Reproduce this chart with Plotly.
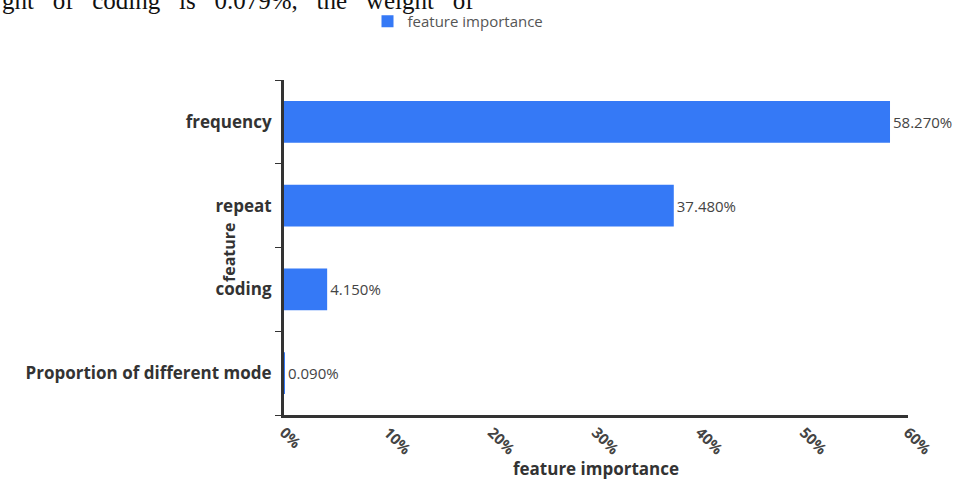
import plotly.graph_objects as go

features = ["Proportion of different mode", "coding", "repeat", "frequency"]
importance = [0.09, 4.15, 37.48, 58.27]
x_ticks = [0, 10, 20, 30, 40, 50, 60]
series_name = "feature importance"

L, R, T, B = 284, 50, 80, 65
PW, PH = 958 - L - R, 480 - T - B

fig = go.Figure()
fig.add_trace(go.Bar(
    y=features, x=importance, orientation="h", name=series_name,
    marker=dict(color="#3579F6", line=dict(width=0)),
    width=0.5,
    text=[f"{v:.3f}%" for v in importance],
    textposition="outside",
    textfont=dict(family="Open Sans", size=15, color="#444"),
    cliponaxis=False,
    showlegend=True,
))

fig.update_layout(
    width=958, height=480,
    margin=dict(l=L, r=R, t=T, b=B, autoexpand=False),
    plot_bgcolor="white", paper_bgcolor="white",
    font=dict(family="Open Sans", color="#333"),
    legend=dict(orientation="h", x=(458 - L) / PW, xanchor="center", y=1 + (T - 5) / PH, yanchor="top",
                font=dict(size=15, color="#555"), itemsizing="constant"),
    bargap=0.5,
)
fig.update_xaxes(
    range=[0, 60], tickvals=x_ticks, ticktext=[f"<b>{v}%</b>" for v in x_ticks],
    tickangle=45, showgrid=False, zeroline=False, automargin=False,
    showline=True, linecolor="#333", linewidth=3,
    ticks="", tickfont=dict(size=15, color="#444", family="Open Sans"),
    title=dict(text="<b>feature importance</b>", font=dict(size=17, color="#333"), standoff=0),
)
fig.update_yaxes(
    showgrid=False, zeroline=False, showline=True, linecolor="#333", linewidth=3, automargin=False,
    ticks="outside", ticklen=6, tickcolor="#333", tickwidth=1, tickson="boundaries",
    ticklabelstandoff=6,
    tickfont=dict(size=17, color="#333", family="Open Sans"),
    ticktext=[f"<b>{f}</b>" for f in features], tickvals=features,
)
fig.add_annotation(
    text="<b>feature</b>", textangle=-90, xref="paper", yref="paper",
    x=(229 - L) / PW, y=(480 - B - 252) / PH, xanchor="center", yanchor="middle",
    showarrow=False, font=dict(size=16, color="#333"),
)
fig.add_annotation(
    text="ght   of   coding   is   0.079%,   the   weight   of", xref="paper", yref="paper",
    x=-L / PW, y=1 + (T - 16) / PH, xanchor="left", yanchor="bottom",
    showarrow=False, font=dict(size=25, color="#111", family="Liberation Serif"),
)
fig.write_html("out.html")
